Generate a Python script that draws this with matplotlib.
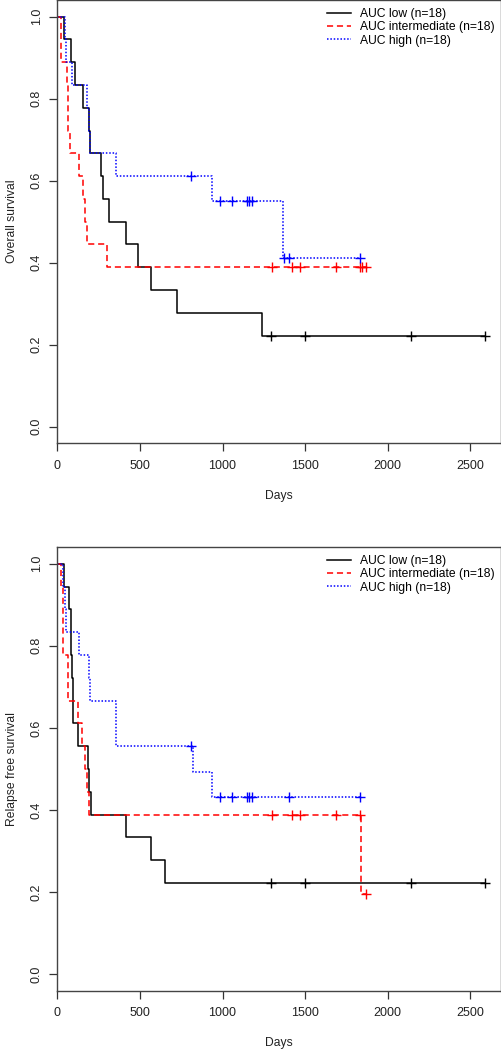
import numpy as np
import matplotlib
matplotlib.use("Agg")
import matplotlib.pyplot as plt

plt.rcParams['font.family'] = ['Liberation Sans', 'DejaVu Sans']

# overall survival: follow-up days and status (1 = event, 0 = censored)
os_low_t = [40, 82, 106, 152, 190, 198, 265, 279, 315, 414, 486, 565, 723, 1238, 1292, 1500, 2141, 2591]
os_low_e = [1, 1, 1, 1, 1, 1, 1, 1, 1, 1, 1, 1, 1, 1, 0, 0, 0, 0]
os_mid_t = [22, 22, 60, 63, 66, 76, 133, 153, 170, 182, 299, 1302, 1420, 1470, 1686, 1830, 1844, 1870]
os_mid_e = [1, 1, 1, 1, 1, 1, 1, 1, 1, 1, 1, 0, 0, 0, 0, 0, 0, 0]
os_high_t = [48, 50, 90, 177, 190, 198, 355, 808, 937, 985, 1060, 1148, 1163, 1177, 1369, 1375, 1405, 1834]
os_high_e = [1, 1, 1, 1, 1, 1, 1, 0, 1, 0, 0, 0, 0, 0, 1, 0, 0, 0]

# relapse free survival
rfs_low_t = [40, 70, 80, 85, 88, 95, 97, 122, 187, 193, 201, 416, 565, 652, 1292, 1500, 2141, 2591]
rfs_low_e = [1, 1, 1, 1, 1, 1, 1, 1, 1, 1, 1, 1, 1, 1, 0, 0, 0, 0]
rfs_mid_t = [20, 31, 31, 31, 62, 62, 127, 151, 168, 181, 193, 1302, 1420, 1470, 1686, 1830, 1838, 1870]
rfs_mid_e = [1, 1, 1, 1, 1, 1, 1, 1, 1, 1, 1, 0, 0, 0, 0, 0, 1, 0]
rfs_high_t = [36, 47, 52, 133, 193, 197, 355, 355, 808, 820, 937, 985, 1060, 1151, 1163, 1177, 1405, 1830]
rfs_high_e = [1, 1, 1, 1, 1, 1, 1, 1, 0, 1, 1, 0, 0, 0, 0, 0, 0, 0]

labels = ["AUC low (n=18)", "AUC intermediate (n=18)", "AUC high (n=18)"]
colors = ["black", "red", "blue"]
styles = ["-", (0, (4, 2.5)), (0, (1, 1.2))]


def km(times, events):
    t = np.array(times, dtype=float)
    e = np.array(events)
    xs, ys = [0.0], [1.0]
    s = 1.0
    cens_x, cens_y = [], []
    for u in np.unique(t):
        at_risk = np.sum(t >= u)
        d = np.sum((t == u) & (e == 1))
        if d > 0:
            s = s * (at_risk - d) / at_risk
            xs.append(u)
            ys.append(s)
        if np.any((t == u) & (e == 0)):
            cens_x.append(u)
            cens_y.append(s)
    xs.append(t.max())
    ys.append(s)
    return xs, ys, cens_x, cens_y


fig = plt.figure(figsize=(5.02, 10.5), dpi=100)
ax1 = fig.add_axes([57.4 / 502, 1 - 443 / 1050, 443.6 / 502, 442.7 / 1050])
ax2 = fig.add_axes([57.4 / 502, 1 - 990.7 / 1050, 443.6 / 502, 443.4 / 1050])

panels = [
    (ax1, [(os_low_t, os_low_e), (os_mid_t, os_mid_e), (os_high_t, os_high_e)], "Overall survival", 496),
    (ax2, [(rfs_low_t, rfs_low_e), (rfs_mid_t, rfs_mid_e), (rfs_high_t, rfs_high_e)], "Relapse free survival", 1043),
]

for ax, groups, ylab, days_y in panels:
    for (t, e), c, ls, lab in zip(groups, colors, styles, labels):
        xs, ys, cx, cy = km(t, e)
        ax.step(xs, ys, where="post", color=c, linestyle=ls, lw=1.1, label=lab)
        ax.plot(cx, cy, linestyle="none", marker="+", color=c, ms=7, mew=1.0)
    ax.set_xlim(0, 2686)
    ax.set_ylim(-0.04, 1.04)
    ax.set_xticks([0, 500, 1000, 1500, 2000, 2500])
    ax.set_yticks([0.0, 0.2, 0.4, 0.6, 0.8, 1.0])
    ax.set_yticklabels(["0.0", "0.2", "0.4", "0.6", "0.8", "1.0"], rotation=90, va="center")
    ax.tick_params(labelsize=9, length=6, width=0.9, color="#333333", labelcolor="#222222")
    ax.tick_params(axis="x", pad=6)
    ax.tick_params(axis="y", pad=4.5)
    for sp in ax.spines.values():
        sp.set_color("#444444")
        sp.set_linewidth(1.0)
    ax.set_xlabel("Days", fontsize=8.7, color="#222222")
    ax.set_ylabel(ylab, fontsize=8.7, color="#222222")
    bb = ax.get_position()
    ax.xaxis.set_label_coords(0.5, (1 - days_y / 1050 - bb.y0) / bb.height)
    ax.yaxis.set_label_coords((12 / 502 - bb.x0) / bb.width, 0.5)
    ax.xaxis.label.set_va("center")
    ax.yaxis.label.set_va("center")
    ax.legend(loc="upper right", bbox_to_anchor=(0.9865, 0.982), frameon=False, fontsize=8.7,
              handlelength=2.0, handletextpad=0.8, labelspacing=0.1, borderpad=0, borderaxespad=0)

fig.savefig("out.png", dpi=100)
